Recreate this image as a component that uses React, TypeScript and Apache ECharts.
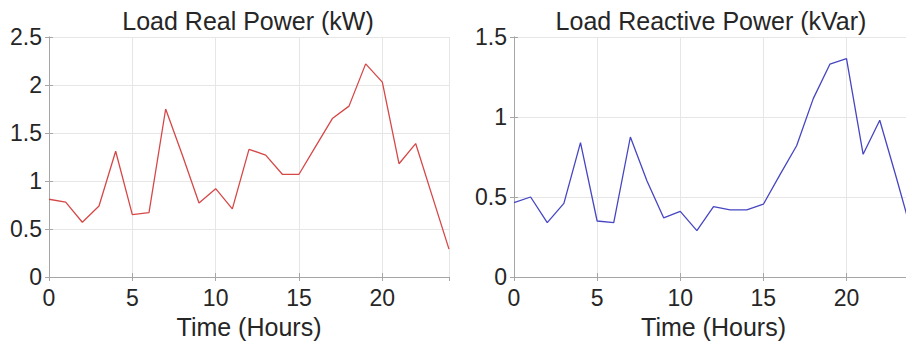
import React, { useEffect, useRef } from "react";
import * as echarts from "echarts";

const hours = [0, 1, 2, 3, 4, 5, 6, 7, 8, 9, 10, 11, 12, 13, 14, 15, 16, 17, 18, 19, 20, 21, 22, 23, 24];
const realPower = [0.81, 0.78, 0.57, 0.74, 1.31, 0.65, 0.67, 1.75, 1.27, 0.77, 0.92, 0.71, 1.33, 1.27, 1.07, 1.07, 1.36, 1.65, 1.78, 2.22, 2.03, 1.18, 1.39, 0.84, 0.29];
const reactivePower = [0.465, 0.5, 0.34, 0.46, 0.84, 0.35, 0.34, 0.875, 0.6, 0.37, 0.41, 0.29, 0.44, 0.42, 0.42, 0.455, 0.64, 0.82, 1.115, 1.33, 1.365, 0.767, 0.98, 0.62, 0.25];
const titles = ["Load Real Power (kW)", "Load Reactive Power (kVar)"];
const xName = "Time (Hours)";

const FONT = "Liberation Sans, Arial, Helvetica, sans-serif";
const TEXT = "#262626";
const AXIS = "#a6a6a6";
const GRIDC = "#e6e6e6";

export default function App() {
  const ref = useRef<HTMLDivElement>(null);
  useEffect(() => {
    const chart = echarts.init(ref.current!, null, { renderer: "svg" });
    const grids = [
      { left: 49, top: 37, width: 400, height: 240 },
      { left: 514, top: 37, width: 399, height: 240 },
    ];
    const yMax = [2.5, 1.5];
    const xAxes: any[] = [];
    const yAxes: any[] = [];
    [0, 1].forEach((g) => {
      xAxes.push({
        type: "value", gridIndex: g, min: 0, max: 24, interval: 5, position: "bottom",
        name: xName, nameLocation: "middle", nameGap: 37,
        nameTextStyle: { fontFamily: FONT, fontSize: 25, color: TEXT },
        axisLine: { show: true, lineStyle: { color: AXIS, width: 1 } },
        axisTick: { show: true, inside: true, length: 4, lineStyle: { color: AXIS } },
        axisLabel: { fontFamily: FONT, fontSize: 23, color: TEXT, margin: 9, showMaxLabel: false },
        splitLine: { show: true, lineStyle: { color: GRIDC, width: 1 } },
      });
      xAxes.push({
        type: "value", gridIndex: g, min: 0, max: 24, interval: 5, position: "top",
        axisLine: { show: true, lineStyle: { color: AXIS, width: 1 } },
        axisTick: { show: true, inside: true, length: 4, lineStyle: { color: AXIS } },
        axisLabel: { show: false }, splitLine: { show: false },
      });
      yAxes.push({
        type: "value", gridIndex: g, min: 0, max: yMax[g], interval: 0.5, position: "left",
        axisLine: { show: true, lineStyle: { color: AXIS, width: 1 } },
        axisTick: { show: true, inside: true, length: 4, lineStyle: { color: AXIS } },
        axisLabel: { fontFamily: FONT, fontSize: 23, color: TEXT, margin: 7 },
        splitLine: { show: true, lineStyle: { color: GRIDC, width: 1 } },
      });
      yAxes.push({
        type: "value", gridIndex: g, min: 0, max: yMax[g], interval: 0.5, position: "right",
        axisLine: { show: true, lineStyle: { color: AXIS, width: 1 } },
        axisTick: { show: true, inside: true, length: 4, lineStyle: { color: AXIS } },
        axisLabel: { show: false }, splitLine: { show: false },
      });
    });
    chart.setOption({
      animation: false,
      backgroundColor: "#ffffff",
      title: [
        { text: titles[0], left: 243, top: 3, textAlign: "center",
          textStyle: { fontFamily: FONT, fontSize: 25, fontWeight: "normal", color: TEXT } },
        { text: titles[1], left: 706, top: 3, textAlign: "center",
          textStyle: { fontFamily: FONT, fontSize: 25, fontWeight: "normal", color: TEXT } },
      ],
      grid: grids,
      xAxis: xAxes,
      yAxis: yAxes,
      series: [
        {
          type: "line", xAxisIndex: 0, yAxisIndex: 0, showSymbol: false,
          data: hours.map((h, i) => [h, realPower[i]]),
          lineStyle: { color: "#d64848", width: 1.3 },
        },
        {
          type: "line", xAxisIndex: 2, yAxisIndex: 2, showSymbol: false,
          data: hours.map((h, i) => [h, reactivePower[i]]),
          lineStyle: { color: "#4646c2", width: 1.3 },
        },
      ],
    });
    return () => chart.dispose();
  }, []);
  return (
    <div style={{ position: "fixed", left: 0, top: 0, width: 906, height: 346, overflow: "hidden", background: "#fff" }}>
      <div ref={ref} style={{ width: 916, height: 346 }} />
    </div>
  );
}
